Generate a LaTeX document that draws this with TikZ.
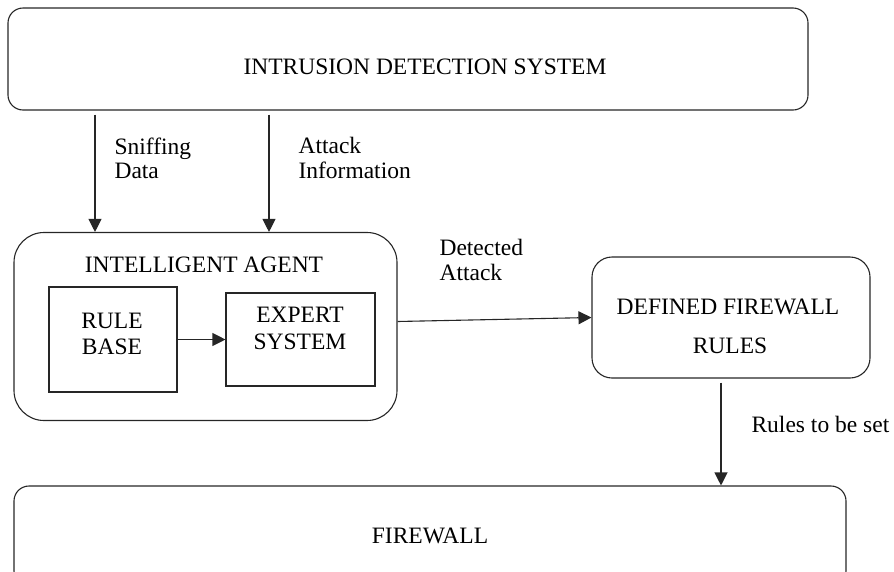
\documentclass[tikz,border=0pt]{standalone}
\usepackage{fontspec}
\setmainfont{Liberation Serif}
\usetikzlibrary{arrows.meta}
\begin{document}
\begin{tikzpicture}[x=1pt,y=-1pt,
  font=\fontsize{23.5}{26}\selectfont,
  line width=1.1pt,
  box/.style={draw=black!85, line width=1.1pt, inner sep=0pt},
  rbox/.style={box, rounded corners=#1},
  txt/.style={inner sep=0pt, anchor=base},
  ltxt/.style={inner sep=0pt, anchor=base west},
  arr/.style={draw=black!85, line width=1.1pt, -{Triangle[length=13pt,width=13pt]}}]
\useasboundingbox (0,0) rectangle (894,571);

% boxes
\node[rbox=15pt, minimum width=800pt, minimum height=102pt] (ids) at (408,59) {};
\node[rbox=30pt, minimum width=383pt, minimum height=188pt] (agent) at (205.5,326.5) {};
\node[box, minimum width=128pt, minimum height=105pt] (rule) at (113,339.5) {};
\node[box, minimum width=149pt, minimum height=93pt] (expert) at (300.5,339.5) {};
\node[rbox=20pt, minimum width=278pt, minimum height=121pt] (dfr) at (731,317.5) {};
\node[rbox=15pt, minimum width=832pt, minimum height=100pt] (fw) at (430,536) {};

% box texts
\node[txt] (idsT) at (425,74) {INTRUSION DETECTION SYSTEM};
\node[txt] (agentT) at (204,272) {INTELLIGENT AGENT};
\node[txt] (ruleT1) at (112,328) {RULE};
\node[txt] (ruleT2) at (112,354) {BASE};
\node[txt] (expT1) at (300,322) {EXPERT};
\node[txt] (expT2) at (300,349) {SYSTEM};
\node[txt] (dfrT1) at (728,314) {DEFINED FIREWALL};
\node[txt] (dfrT2) at (730,353) {RULES};
\node[txt] (fwT) at (430,543) {FIREWALL};

% connector labels
\node[ltxt] (sn1) at (114,154) {Sniffing};
\node[ltxt] (sn2) at (114,178) {Data};
\node[ltxt] (at1) at (298,153) {Attack};
\node[ltxt] (at2) at (298,178) {Information};
\node[ltxt] (de1) at (439,255) {Detected};
\node[ltxt] (de2) at (439,280) {Attack};
\node[ltxt] (rs) at (751,432) {Rules to be set};

% connectors
\coordinate (s1) at (95,0);
\coordinate (s2) at (269,0);
\coordinate (s3) at (721,0);
\draw[arr, shorten <=4pt] (ids.south -| s1) -- (agent.north -| s1);
\draw[arr, shorten <=4pt] (ids.south -| s2) -- (agent.north -| s2);
\draw[arr] (rule.east) -- (expert.west);
\draw[arr] ([yshift=5pt]agent.east) -- (dfr.west);
\draw[arr, shorten <=4pt] (dfr.south -| s3) -- (fw.north -| s3);
\end{tikzpicture}
\end{document}
